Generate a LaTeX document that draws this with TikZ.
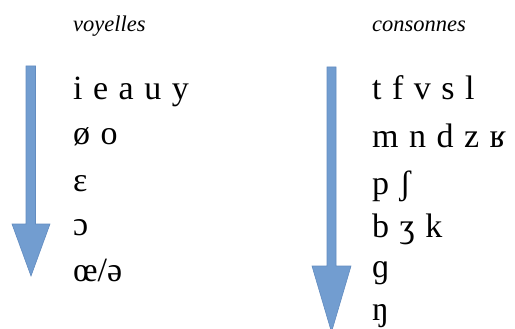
\documentclass[tikz,border=0pt]{standalone}
\usepackage{fontspec}
\setmainfont{Liberation Serif}
\definecolor{arrowblue}{RGB}{114,157,208}
\definecolor{arrowedge}{RGB}{98,140,192}
\newcommand\wideipa{\fontsize{34}{36}\selectfont\spaceskip=10.5pt plus 0pt minus 0pt\relax}
\begin{document}
\begin{tikzpicture}[x=1pt,y=-1pt,
  head/.style={anchor=base west,inner sep=0pt,font=\fontsize{22.5}{24}\selectfont\itshape},
  ipa/.style={anchor=base west,inner sep=0pt},
  fat/.style={fill=arrowblue,draw=arrowedge,line width=0.6pt,line join=miter}]
\useasboundingbox (0,0) rectangle (515,329);
\clip (0,0) rectangle (515,329);
% headers
\node[head] (hv) at (73,32) {voyelles};
\node[head] (hc) at (372,32) {consonnes};
% vowels
\node[ipa] (v1) at (73,100) {\wideipa i e a u y};
\node[ipa] (v2) at (73,145) {\wideipa ø o};
\node[ipa] (v3) at (73,191) {\wideipa ɛ};
\node[ipa] (v4) at (73,236) {\wideipa ɔ};
\node[ipa] (v5) at (73,281) {\wideipa œ/ə};
% consonants
\node[ipa] (c1) at (372,100) {\wideipa t f v s l};
\node[ipa] (c2) at (372,147) {\wideipa m n d z ʁ};
\node[ipa] (c3) at (372,195) {\wideipa p ʃ};
\node[ipa] (c4) at (372,237) {\wideipa b ʒ k};
\node[ipa] (c5) at (372,277) {\wideipa ɡ};
\node[ipa] (c6) at (372,320) {\wideipa ŋ};
% arrows
\draw[fat] (26,66) -- (35.5,66) -- (35.5,224) -- (50,224) -- (31,276) -- (12,224) -- (26,224) -- cycle;
\draw[fat] (327,67) -- (336,67) -- (336,266) -- (351,266) -- (331.5,332) -- (312,266) -- (327,266) -- cycle;
\end{tikzpicture}
\end{document}
